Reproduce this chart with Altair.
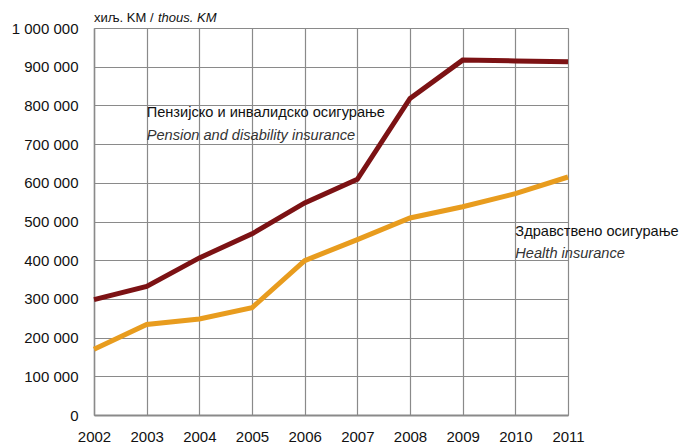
import altair as alt
import pandas as pd

years = [2002, 2003, 2004, 2005, 2006, 2007, 2008, 2009, 2010, 2011]
pension = [298000, 332000, 406000, 468000, 548000, 609000, 818000, 917000, 915000, 913000]
health = [170000, 234000, 248000, 277000, 399000, 453000, 509000, 538000, 572000, 615000]
y_ticks = [0, 100000, 200000, 300000, 400000, 500000, 600000, 700000, 800000, 900000, 1000000]

series_names = ["pension", "health"]
colors = ["#7C1214", "#E89C1E"]

rows = []
for y, p, h in zip(years, pension, health):
    rows.append({"year": y, "value": p, "series": "pension"})
    rows.append({"year": y, "value": h, "series": "health"})
df = pd.DataFrame(rows)

FONT = "Liberation Sans"

x_scale = alt.Scale(domain=[2002, 2011], nice=False)
y_scale = alt.Scale(domain=[0, 1000000], nice=False)

x_axis = alt.Axis(values=years, format="d", title=None, grid=True,
                  ticks=False, labelPadding=14, labelFontSize=15,
                  labelFont=FONT, labelColor="#111", labelOverlap=False,
                  domainColor="#8a8a8a", domainWidth=2,
                  gridColor="#8a8a8a", gridWidth=1.2, labelFlush=False)
y_axis = alt.Axis(values=y_ticks, title=None, grid=True,
                  labelExpr="replace(replace(format(datum.value, ','), ',', ' '), ',', ' ')",
                  ticks=False, labelPadding=16, labelFontSize=15,
                  labelFont=FONT, labelColor="#111", labelOverlap=False,
                  domainColor="#8a8a8a", domainWidth=1.5,
                  gridColor="#8a8a8a", gridWidth=1.2)

def xe():
    return alt.X("year:Q", scale=x_scale, axis=x_axis)

def ye():
    return alt.Y("value:Q", scale=y_scale, axis=y_axis)

lines = alt.Chart(df).mark_line(strokeWidth=5, strokeJoin="miter").encode(
    x=xe(), y=ye(),
    color=alt.Color("series:N", scale=alt.Scale(domain=series_names, range=colors), legend=None),
)

labels = pd.DataFrame([
    {"year": 2003, "value": 780000, "text": "Пензијско и инвалидско осигурање", "style": "normal"},
    {"year": 2003, "value": 722000, "text": "Pension and disability insurance", "style": "italic"},
    {"year": 2010, "value": 474000, "text": "Здравствено осигурање", "style": "normal"},
    {"year": 2010, "value": 416000, "text": "Health insurance", "style": "italic"},
])

lab_normal = alt.Chart(labels[labels["style"] == "normal"]).mark_text(
    align="left", baseline="middle", font=FONT, fontSize=14.6, color="#111"
).encode(x=xe(), y=ye(), text="text:N")
lab_italic = alt.Chart(labels[labels["style"] == "italic"]).mark_text(
    align="left", baseline="middle", font=FONT, fontSize=14.6, fontStyle="italic", color="#333"
).encode(x=xe(), y=ye(), text="text:N")

unit1 = alt.Chart(pd.DataFrame({"t": ["хиљ. KM /"]})).mark_text(
    align="left", baseline="alphabetic", font=FONT, fontSize=13, color="#111"
).encode(x=alt.value(0), y=alt.value(-6), text="t:N")
unit2 = alt.Chart(pd.DataFrame({"t": ["thous. KM"]})).mark_text(
    align="left", baseline="alphabetic", font=FONT, fontSize=13, fontStyle="italic", color="#111"
).encode(x=alt.value(64), y=alt.value(-6), text="t:N")

chart = alt.layer(lines, lab_normal, lab_italic, unit1, unit2).properties(
    width=474, height=387,
    autosize=alt.AutoSizeParams(type="none"),
    padding={"left": 86, "top": 20, "right": 112, "bottom": 40},
).configure_view(stroke=None).configure(background="white")

chart.save("out.html", embed_options={"renderer": "svg", "actions": False})
